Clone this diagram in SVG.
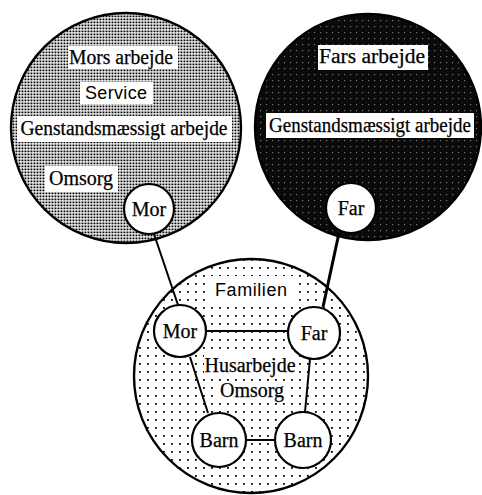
<svg xmlns="http://www.w3.org/2000/svg" width="482" height="495" viewBox="0 0 482 495">
<defs>
<pattern id="pGrey" width="3" height="3" patternUnits="userSpaceOnUse">
<rect width="3" height="3" fill="#fff"/>
<rect x="0.5" y="0.5" width="1.9" height="1.8" fill="#000"/>
</pattern>
<pattern id="pDark" width="6" height="6" patternUnits="userSpaceOnUse">
<rect width="6" height="6" fill="#0a0a0a"/>
<rect x="2" y="2" width="1.2" height="1.2" fill="#777"/>
</pattern>
<pattern id="pDots" width="8" height="8" patternUnits="userSpaceOnUse">
<rect width="8" height="8" fill="#fff"/>
<rect x="3" y="3" width="1.8" height="1.8" fill="#000"/>
</pattern>
<style>
.big{stroke:#000;stroke-width:2.4}
.node{fill:#fff;stroke:#000;stroke-width:2.2}
.lab{fill:#fff}
.serif{font-family:"Liberation Serif","Times New Roman",serif;font-size:20px;fill:#000;stroke:#000;stroke-width:0.25;text-anchor:middle}
.sans{font-family:"Liberation Sans",Arial,sans-serif;font-size:18px;fill:#000;text-anchor:middle}
.conn{stroke:#000;stroke-width:2;fill:none}
</style>
</defs>

<g id="mors-arbejde">
<circle class="big" cx="126" cy="128" r="115" fill="url(#pGrey)"/>
<rect class="lab" x="68" y="46" width="110" height="23"/>
<text class="serif" x="121" y="64" textLength="104" lengthAdjust="spacingAndGlyphs">Mors arbejde</text>
<rect class="lab" x="80" y="82" width="73" height="22"/>
<text class="sans" x="116" y="99" textLength="62" lengthAdjust="spacing">Service</text>
<rect class="lab" x="17" y="116" width="215" height="26"/>
<text class="serif" x="124" y="135" textLength="207" lengthAdjust="spacingAndGlyphs">Genstandsmæssigt arbejde</text>
<rect class="lab" x="45" y="166" width="73" height="26"/>
<text class="serif" x="81" y="185">Omsorg</text>
</g>

<g id="fars-arbejde">
<circle class="big" cx="368" cy="127" r="113" fill="url(#pDark)"/>
<rect class="lab" x="318" y="45" width="110" height="25"/>
<text class="serif" x="372" y="63" textLength="106" lengthAdjust="spacingAndGlyphs">Fars arbejde</text>
<rect class="lab" x="266" y="113" width="208" height="25"/>
<text class="serif" x="370" y="132" textLength="202" lengthAdjust="spacingAndGlyphs">Genstandsmæssigt arbejde</text>
</g>

<g id="familien">
<circle class="big" cx="251" cy="376" r="117" fill="url(#pDots)"/>
<rect class="lab" x="209" y="276" width="84" height="26"/>
<text class="sans" x="251" y="296" textLength="72" lengthAdjust="spacing">Familien</text>
<rect class="lab" x="204" y="355" width="92" height="24"/>
<text class="serif" x="250" y="372">Husarbejde</text>
<rect class="lab" x="219" y="381" width="66" height="22"/>
<text class="serif" x="252" y="397">Omsorg</text>
</g>

<g id="connectors">
<line class="conn" x1="154" y1="234" x2="178" y2="305"/>
<line class="conn" x1="339" y1="233" x2="323" y2="307" style="stroke-width:3"/>
<line class="conn" x1="206" y1="331" x2="288" y2="331"/>
<line class="conn" x1="190" y1="357" x2="208" y2="413"/>
<line class="conn" x1="310" y1="359" x2="305" y2="412"/>
<line class="conn" x1="246" y1="440" x2="275" y2="440"/>
</g>

<g id="mor-arbejde">
<circle class="node" cx="149" cy="209" r="25"/>
<text class="serif" x="149" y="216">Mor</text>
</g>
<g id="far-arbejde">
<circle class="node" cx="351" cy="208" r="25"/>
<text class="serif" x="351" y="215">Far</text>
</g>
<g id="mor">
<circle class="node" cx="180" cy="331" r="26"/>
<text class="serif" x="180" y="338">Mor</text>
</g>
<g id="far">
<circle class="node" cx="314" cy="333" r="26"/>
<text class="serif" x="314" y="340">Far</text>
</g>
<g id="barn1">
<circle class="node" cx="219" cy="440" r="27"/>
<text class="serif" x="219" y="447">Barn</text>
</g>
<g id="barn2">
<circle class="node" cx="303" cy="440" r="28"/>
<text class="serif" x="303" y="447">Barn</text>
</g>
</svg>
